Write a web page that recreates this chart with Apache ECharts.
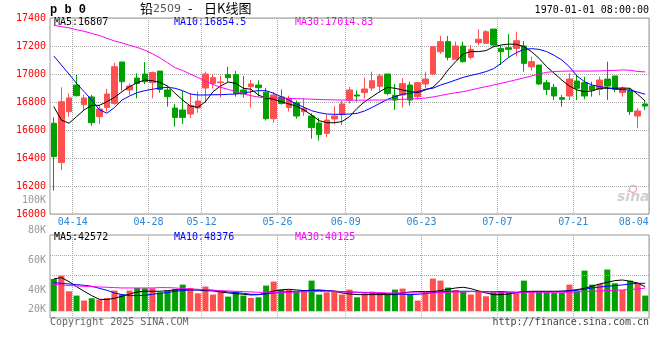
<!DOCTYPE html>
<html><head><meta charset="utf-8">
<script src="https://cdn.jsdelivr.net/npm/echarts@6/dist/echarts.min.js"></script>
<style>html,body{margin:0;padding:0;background:#fff}#c{width:660px;height:360px}</style>
</head><body><div id="c"></div>
<script>
// ---- data ----
const dates = ['04-10','04-11','04-14','04-15','04-16','04-17','04-18','04-21','04-22','04-23','04-24','04-25','04-28','04-29','04-30',
'05-06','05-07','05-08','05-09','05-12','05-13','05-14','05-15','05-16','05-19','05-20','05-21','05-22','05-23','05-26','05-27','05-28','05-29','05-30',
'06-03','06-04','06-05','06-06','06-09','06-10','06-11','06-12','06-13','06-16','06-17','06-18','06-19','06-20','06-23','06-24','06-25','06-26','06-27','06-30',
'07-01','07-02','07-03','07-04','07-07','07-08','07-09','07-10','07-11','07-14','07-15','07-16','07-17','07-18','07-21','07-22','07-23','07-24','07-25','07-28','07-29','07-30','07-31',
'08-01','08-04'];
const dateLabels = ['04-14','04-28','05-12','05-26','06-09','06-23','07-07','07-21','08-04'];

const openP = [16648,16367,16731,16921,16781,16836,16695,16760,16790,17086,
16886,16971,17000,16938,17021,16886,16757,16743,16714,16757,
16900,16933,16938,16995,16995,16886,16910,16921,16870,16681,
16836,16760,16795,16731,16700,16650,16576,16679,16710,16814,
16850,16867,16900,16912,17000,16848,16850,16921,16838,16929,
17000,17159,17231,17105,17200,17119,17224,17219,17321,17183,
17188,17183,17200,17052,17064,16938,16905,16831,16843,16950,
16938,16914,16890,16964,16986,16867,16881,16700,16786];
const closeP = [16410,16802,16829,16845,16829,16652,16750,16857,17052,16945,
16914,16933,16945,17010,16890,16838,16690,16690,16776,16807,
17000,16974,16943,16974,16862,16857,16929,16902,16681,16850,
16790,16826,16700,16752,16617,16567,16671,16700,16786,16886,
16843,16893,16952,16986,16860,16814,16931,16814,16938,16964,
17195,17231,17119,17200,17088,17176,17248,17302,17207,17159,
17176,17238,17076,17088,16929,16890,16843,16819,16964,16898,
16843,16886,16957,16914,16890,16898,16731,16736,16771];
const lowP = [16167,16314,16695,16840,16743,16629,16643,16731,16780,16881,
16850,16826,16929,16826,16867,16767,16624,16643,16686,16724,
16795,16898,16831,16945,16838,16831,16760,16838,16667,16652,
16781,16731,16681,16700,16538,16524,16550,16640,16635,16790,
16802,16826,16880,16870,16848,16745,16760,16774,16819,16898,
16990,17143,17098,17105,17081,17105,17207,17214,17195,17064,
17119,17126,17017,17024,16921,16850,16814,16767,16814,16814,
16819,16838,16848,16814,16869,16838,16707,16612,16743];
const highP = [16690,16905,16862,16993,16852,16850,16779,16893,17081,17086,
16933,17005,17086,17017,17021,16914,16786,16879,16862,16874,
17017,17000,16988,17052,17021,16986,16957,16955,16900,16870,
16890,16845,16812,16826,16719,16686,16707,16769,16808,16908,
16883,16975,17017,17000,17000,16929,16970,16945,16945,17017,
17200,17271,17271,17231,17231,17207,17319,17314,17321,17202,
17286,17302,17236,17124,17064,16957,16929,16850,17005,16993,
16981,16945,16981,17088,16986,16910,16898,16755,16814];

const ma5 = [16767,16671,16648,16695,16743,16776,16776,16802,16833,16874,
16910,16938,16957,16952,16940,16914,16862,16814,16771,16762,
16802,16874,16914,16943,16933,16898,16891,16850,16826,16819,
16802,16786,16771,16743,16707,16667,16652,16652,16660,16695,
16755,16802,16838,16874,16905,16898,16886,16874,16867,16886,
16905,16957,17029,17088,17143,17160,17160,17167,17195,17207,
17214,17212,17195,17160,17112,17052,17005,16957,16914,16886,
16874,16879,16898,16898,16898,16900,16898,16855,16807];
const ma10 = [17129,17064,17000,16933,16874,16814,16745,16720,16760,16814,
16843,16867,16881,16891,16900,16905,16898,16881,16857,16850,
16850,16852,16852,16855,16857,16862,16874,16881,16881,16862,
16838,16814,16786,16762,16738,16724,16714,16712,16712,16714,
16719,16736,16762,16790,16819,16838,16855,16862,16874,16891,
16898,16921,16938,16957,16976,16990,17002,17017,17038,17076,
17119,17152,17176,17181,17176,17160,17133,17100,17052,16986,
16945,16921,16910,16902,16893,16888,16886,16871,16855];
const ma30 = [17348,17338,17330,17316,17305,17290,17275,17255,17236,17222,
17205,17190,17170,17145,17115,17080,17045,17025,17000,16975,
16950,16925,16905,16890,16876,16860,16845,16835,16832,16830,
16828,16826,16824,16822,16820,16818,16816,16815,16814,16813,
16813,16813,16814,16814,16815,16817,16819,16821,16824,16828,
16836,16846,16857,16866,16874,16886,16898,16910,16921,16934,
16946,16959,16972,16986,17000,17012,17018,17020,17021,17021,
17021,17021,17022,17024,17026,17029,17027,17018,17015];

const volume = [55800,61700,34600,27100,18500,22500,20200,23000,35800,28900,
35800,40300,39700,39700,32800,35800,38500,46100,40300,31100,
42700,28900,34600,25400,34000,27100,23000,24200,44400,51300,
37500,36800,34000,34600,53000,28900,32800,35800,28900,37500,
24200,31100,34000,31100,28900,37500,39200,28900,18500,34000,
56500,53000,41000,36800,34000,28900,35800,25900,32800,34600,
32800,32800,53000,34600,34000,32800,31600,31600,46100,34600,
70300,46100,47200,72100,48400,36800,53000,48400,27100];
const volMa5 = [55900,58200,51300,42600,34600,27100,20700,20200,22500,25900,
29900,33400,34600,34600,34600,35700,36900,37400,37400,36900,
35700,35100,33400,31700,30500,29400,28200,28800,31700,35100,
36900,38000,36900,35700,36300,36900,35700,34600,31700,29900,
28800,28800,28800,28800,28800,28800,31700,33400,34000,34000,
34000,35700,38000,40300,41500,39200,35100,31700,28800,28800,
29900,32300,34000,34600,34600,34600,34600,34600,35700,37400,
39700,43200,47200,50100,53000,54100,51800,48900,42572];
const volMa10 = [49500,48400,47200,46100,44900,43200,39700,36300,31700,28800,
27100,27100,27600,29400,31100,32300,34600,35700,36900,36900,
36900,36300,35100,33400,32300,31100,29400,28800,29900,31700,
32800,34000,34600,35100,35700,35700,35700,34600,34000,33400,
32800,32300,31700,31100,30500,29900,29400,28800,29400,30500,
32300,33400,34600,34600,34600,34600,34000,34000,34000,34000,
33400,32800,33400,34000,34000,34000,34000,34600,35100,36300,
38000,40300,42000,43200,44400,45500,47200,48400,48376];
const volMa30 = [46700,45500,44400,43800,43200,42600,42000,41500,40900,40300,
40300,40300,40300,40300,40900,40900,40300,39200,38600,38000,
37400,36300,35700,35100,34600,34000,33400,32800,32800,32800,
32800,32800,33400,33400,34000,34000,34600,34000,33400,33400,
32800,32800,32300,32300,31700,31700,31700,31700,31700,31700,
31700,32300,32800,33400,33400,34000,34000,33400,33400,32800,
32800,32800,32800,32800,32800,32800,32800,32800,32800,33400,
34000,34600,35100,35700,36300,36900,37400,38600,40125];

const priceLegend = ['MA5:16807','MA10:16854.5','MA30:17014.83'];
const volLegend = ['MA5:42572','MA10:48376','MA30:40125'];
const volGridLevels = [62200, 96800];
const volTickLabels = {min:20000, max:100000, step:20000};
const priceTicks = {min:16000, max:17400, step:200};

// ---- chart ----
const FONT = "'DejaVu Sans Mono', monospace";
const UP = '#ff5050', DOWN = '#00a000';
const labelIdx = new Set(dates.map((d,i)=>dateLabels.includes(d)?i:-1).filter(i=>i>=0));
const lastIdx = dates.length - 1;
const candleData = dates.map((d,i)=>[openP[i], closeP[i], lowP[i], highP[i]]);
const volData = volume.map((v,i)=>({value:v, itemStyle:{color: closeP[i]>=openP[i]?UP:DOWN}}));
const gridLine = {type:'dotted', color:'#aaa', width:1};

function catAxis(gi, showLabel){
  return {type:'category', gridIndex:gi, data:dates, boundaryGap:true,
    axisLine:{show:false}, axisTick:{show:false},
    axisLabel: showLabel ? {
      interval:(i)=>labelIdx.has(i), margin:3, color:'#2a88d8', fontSize:10, fontFamily:FONT,
      formatter:(v,i)=> i===lastIdx ? '{e|'+v+'}' : '{n|'+v+'}',
      rich:{n:{padding:[0,0,0,7.6], color:'#2a88d8', fontSize:10, fontFamily:FONT},
            e:{padding:[0,23,0,0], color:'#2a88d8', fontSize:10, fontFamily:FONT}}
    } : {show:false},
    splitLine:{show:true, interval:(i)=>labelIdx.has(i-1), lineStyle:gridLine}};
}
function lineS(data, color, xi, yi){
  return {type:'line', data, xAxisIndex:xi, yAxisIndex:yi, symbol:'none', showSymbol:false,
    lineStyle:{color, width:1}, itemStyle:{color}, silent:true, z:5};
}
const txt = (l,t,s,color,size,extra)=>Object.assign({type:'text', left:l, top:t, silent:true,
  style:{text:s, fill:color, font:(size||10)+'px '+FONT}}, extra||{});

const option = {
  animation:false,
  backgroundColor:'#fff',
  grid:[
    {left:50, top:18, width:599, height:196, show:true, borderColor:'#999', borderWidth:1, containLabel:false, outerBoundsMode:'none'},
    {left:50, top:235, width:599, height:83, show:true, borderColor:'#999', borderWidth:1, containLabel:false, outerBoundsMode:'none'},
    {left:50, top:200, width:599, height:120, show:false, containLabel:false, outerBoundsMode:'none'}
  ],
  xAxis:[ catAxis(0,true), catAxis(1,false), {type:'value', gridIndex:2, show:false} ],
  yAxis:[
    {type:'value', gridIndex:0, min:priceTicks.min, max:priceTicks.max, interval:priceTicks.step,
     axisLine:{show:false}, axisTick:{show:false},
     axisLabel:{color:'#f00', fontSize:10, fontFamily:FONT, margin:4, formatter:(v)=>String(v)},
     splitLine:{show:true, lineStyle:gridLine}},
    {type:'value', gridIndex:1, min:-11600, max:131800, axisLine:{show:false}, axisTick:{show:false},
     axisLabel:{show:false}, splitLine:{show:false}},
    {type:'value', gridIndex:2, min:volTickLabels.min, max:volTickLabels.max, interval:volTickLabels.step,
     axisLine:{show:false}, axisTick:{show:false}, splitLine:{show:false},
     axisLabel:{color:'#999', fontSize:10, fontFamily:FONT, margin:4,
       formatter:(v)=> v===volTickLabels.min ? '{s|'+(v/1000)+'K}' : (v/1000)+'K',
       rich:{s:{padding:[0,0,21,0], color:'#999', fontSize:10, fontFamily:FONT}}}}
  ],
  series:[
    {type:'candlestick', xAxisIndex:0, yAxisIndex:0, data:candleData, barWidth:6,
     itemStyle:{color:UP, color0:DOWN, borderColor:UP, borderColor0:DOWN, borderWidth:1}, silent:true},
    lineS(ma5,'#000',0,0), lineS(ma10,'#0000ff',0,0), lineS(ma30,'#ff00ff',0,0),
    {type:'bar', xAxisIndex:1, yAxisIndex:1, data:volData, barWidth:6, silent:true,
     markLine:{silent:true, symbol:'none', label:{show:false}, lineStyle:gridLine,
       data:volGridLevels.map(v=>({yAxis:v}))}},
    lineS(volMa5,'#000',1,1), lineS(volMa10,'#0000ff',1,1), lineS(volMa30,'#ff00ff',1,1)
  ],
  graphic:[
    {type:'text', left:50, top:4, silent:true, style:{text:'p b 0', fill:'#000', font:"bold 12px 'Liberation Mono', monospace"}},
    {type:'text', left:140, top:2, silent:true, style:{text:'铅', fill:'#000', font:"13px 'Noto Sans CJK SC'"}},
    {type:'text', left:153, top:4, silent:true, style:{text:'2509', fill:'#555', font:"11px 'DejaVu Sans'"}},
    {type:'text', left:188, top:2, silent:true, style:{text:'-', fill:'#000', font:"13px 'Noto Sans CJK SC'"}},
    {type:'text', left:204, top:2, silent:true, style:{text:'日K线图', fill:'#000', font:"13px 'Noto Sans CJK SC'"}},
    {type:'text', right:11, top:5, silent:true, style:{text:'1970-01-01 08:00:00', fill:'#000', font:'10px '+FONT}},
    txt(54,17,priceLegend[0],'#000'), txt(174,17,priceLegend[1],'#0000ff'), txt(295,17,priceLegend[2],'#ff00ff'),
    txt(54,232,volLegend[0],'#000'), txt(174,232,volLegend[1],'#0000ff'), txt(295,232,volLegend[2],'#ff00ff'),
    txt(50,317,'Copyright 2025 SINA.COM','#666'),
    {type:'text', right:11, top:317, silent:true, style:{text:'http://finance.sina.com.cn', fill:'#444', font:'10px '+FONT}},
    {type:'circle', silent:true, shape:{cx:633, cy:189, r:3.5}, style:{fill:'none', stroke:'#f2b0b0', lineWidth:1.5}},
    {type:'text', left:617, top:190, silent:true, style:{text:'sina', fill:'#d0d0d0', font:"italic bold 14px 'DejaVu Sans'"}}
  ]
};
const chart = echarts.init(document.getElementById('c'));
chart.setOption(option);
</script>
</body></html>
